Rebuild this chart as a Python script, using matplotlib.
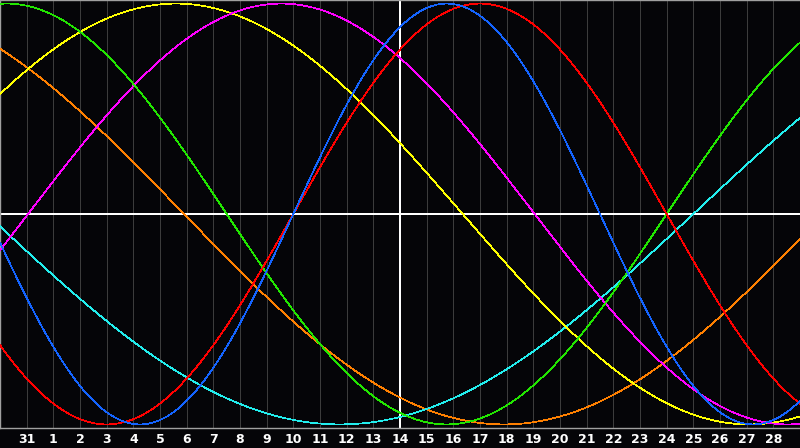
import numpy as np
import matplotlib
matplotlib.use("Agg")
import matplotlib.pyplot as plt

# ---- data ----
# chart positions (one per day column) and their day-of-month labels
tick_positions = list(range(1, 30))
tick_labels = ["31", "1", "2", "3", "4", "5", "6", "7", "8", "9", "10", "11", "12",
               "13", "14", "15", "16", "17", "18", "19", "20", "21", "22", "23",
               "24", "25", "26", "27", "28"]
today_position = 15          # day 14 (white vertical line)

# biorhythm cycles: length in days and chart position where the cycle crosses zero rising
cycle_names = ["physical", "emotional", "intellectual", "intuitive",
               "aesthetic", "awareness", "spiritual"]
cycle_lengths = [23, 28, 33, 38, 43, 48, 53]
cycle_zero_rising = [11.0, 11.0, 25.0, 1.05, -4.15, 30.9, 26.0]
cycle_colors = ["#1464ff", "#ff0000", "#22e600", "#ff00ff", "#ffff00", "#ff8000", "#22eeee"]

# ---- drawing ----
BG = "#050508"
fig = plt.figure(figsize=(8.0, 4.48), dpi=100, facecolor=BG)
ax = fig.add_axes([0.0, 20 / 448, 1.0, 428 / 448], facecolor=BG)
ax.set_xlim(0, 30)
ax.set_ylim(-1.017, 1.017)

for k in range(1, 30):
    ax.axvline(k, color="#3c3c3c", lw=0.5, zorder=1, antialiased=False)

x = np.linspace(0, 30, 2400)
draw_order = [5, 6, 4, 3, 2, 1, 0]
for i in draw_order:
    y = np.sin(2 * np.pi * (x - cycle_zero_rising[i]) / cycle_lengths[i])
    ax.plot(x, y, color=cycle_colors[i], lw=0.5, zorder=3, antialiased=False)

ax.axhline(0, color="white", lw=1.2, zorder=2, antialiased=False)
ax.axvline(today_position, color="white", lw=1.2, zorder=2, antialiased=False)

for side in ["left", "bottom", "top"]:
    ax.spines[side].set_color("#a0a0a0")
    ax.spines[side].set_linewidth(1.0)
ax.spines["right"].set_visible(False)

ax.set_yticks([])
ax.set_xticks(tick_positions)
ax.set_xticklabels(tick_labels, color="white", fontsize=9, fontweight="bold",
                   family="DejaVu Sans")
ax.tick_params(axis="x", length=0, pad=3.5)

fig.savefig("out.png", dpi=100, facecolor=BG)
